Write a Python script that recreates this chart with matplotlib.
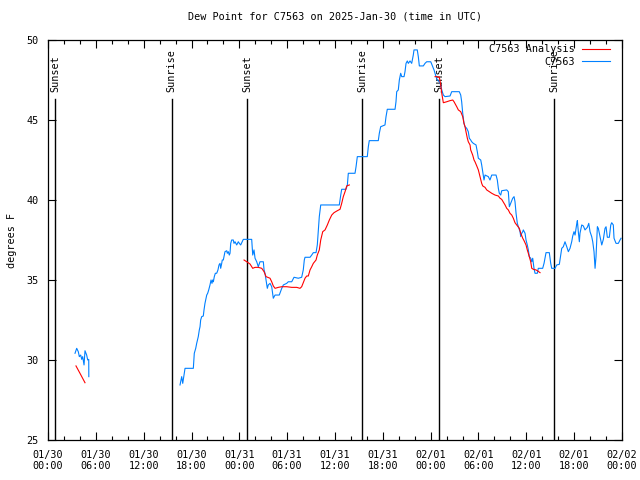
import matplotlib
matplotlib.use("Agg")
import matplotlib.pyplot as plt
import numpy as np

# hours since 2025-01-30 00:00 UTC
obs1_h = [3.39, 3.60, 3.80, 3.93, 4.10, 4.23, 4.35, 4.52, 4.64, 4.85, 4.98, 5.11, 5.12]
obs1_v = [30.42, 30.73, 30.52, 30.21, 30.31, 30.04, 30.21, 29.69, 30.58, 30.31, 30.00, 30.04, 28.96]

obs2_h = [16.56, 16.77, 16.90, 17.06, 17.19, 18.23, 18.35, 18.53, 18.65, 18.85, 18.98, 19.07, 19.15, 19.28,
          19.48, 19.57, 19.69, 19.82, 19.91, 20.03, 20.16, 20.32, 20.45, 20.57, 20.66, 20.74, 20.86, 20.99,
          21.16, 21.32, 21.45, 21.58, 21.66, 21.79, 21.86, 21.99, 22.11, 22.20, 22.42, 22.49, 22.62, 22.74,
          22.83, 22.92, 23.04, 23.24, 23.33, 23.46, 23.67, 23.87, 24.00, 24.17, 24.30, 24.50, 25.55, 25.68,
          25.84, 25.97, 26.18, 26.38, 26.59, 27.01, 27.10, 27.22, 27.35, 27.51, 27.63, 27.85, 28.06, 28.26,
          28.48, 29.01, 29.32, 29.52, 29.94, 30.14, 30.57, 30.86, 31.40, 31.82, 32.02, 32.15, 32.24, 32.87,
          33.08, 33.28, 33.62, 33.78, 33.91, 34.03, 34.21, 36.54, 36.72, 36.84, 37.38, 37.55, 37.67, 38.51,
          38.64, 38.80, 40.05, 40.18, 40.30, 41.43, 41.56, 41.73, 42.27, 42.40, 42.56, 43.53, 43.65, 43.74,
          43.94, 44.07, 44.24, 44.37, 44.66, 44.78, 44.91, 45.07, 45.20, 45.41, 45.62, 45.82, 45.91, 46.32,
          46.45, 46.58, 47.08, 47.29, 47.50, 48.01, 48.26, 48.42, 48.67, 48.83, 49.09, 49.26, 49.39, 49.59,
          49.80, 50.43, 50.64, 51.59, 51.77, 51.89, 52.02, 52.18, 52.31, 52.52, 52.72, 52.85, 53.02, 53.15,
          53.35, 53.69, 53.85, 53.98, 54.28, 54.40, 54.60, 54.69, 54.82, 55.23, 55.44, 55.66, 56.20, 56.36,
          56.49, 56.61, 56.79, 56.91, 57.54, 57.74, 57.87, 58.04, 58.29, 58.46, 58.58, 58.71, 58.87, 59.00,
          59.21, 59.30, 59.42, 59.55, 59.62, 59.84, 59.96, 60.12, 60.25, 60.37, 60.55, 60.68, 60.80, 60.96,
          61.09, 61.38, 61.50, 62.05, 62.22, 62.47, 62.88, 63.06, 63.18, 63.60, 63.81, 64.14, 64.31, 64.44,
          64.64, 64.85, 65.07, 65.27, 65.48, 65.69, 65.82, 65.98, 66.11, 66.32, 66.40, 66.52, 66.65, 66.73,
          66.95, 67.15, 67.36, 67.65, 67.83, 67.99, 68.20, 68.33, 68.49, 68.62, 68.74, 68.91, 69.03, 69.24,
          69.46, 69.66, 69.87, 70.00, 70.16, 70.41, 70.59, 70.71, 70.91, 71.00, 71.25, 71.54, 71.75, 71.88]
obs2_v = [28.44, 28.96, 28.54, 29.06, 29.48, 29.48, 30.42, 30.73, 31.04, 31.46, 31.88, 32.08, 32.50, 32.71,
          32.75, 33.13, 33.54, 33.86, 34.06, 34.17, 34.38, 34.69, 35.00, 34.79, 35.00, 34.89, 35.21, 35.42,
          35.42, 35.63, 35.94, 36.04, 35.73, 36.04, 36.25, 36.25, 36.56, 36.77, 36.83, 36.67, 36.77, 36.56,
          36.67, 37.29, 37.50, 37.50, 37.29, 37.39, 37.19, 37.39, 37.29, 37.19, 37.33, 37.54, 37.54, 36.56,
          36.88, 36.36, 36.14, 35.83, 36.14, 36.14, 35.63, 35.42, 35.00, 34.48, 34.69, 34.79, 34.58, 33.86,
          34.06, 34.06, 34.48, 34.69, 34.79, 34.89, 34.89, 35.17, 35.11, 35.17, 35.63, 36.25, 36.42, 36.42,
          36.56, 36.71, 36.71, 37.19, 38.13, 38.96, 39.69, 39.69, 40.31, 40.67, 40.67, 40.94, 41.67, 41.67,
          42.08, 42.71, 42.71, 43.33, 43.71, 43.71, 44.17, 44.58, 44.69, 45.21, 45.67, 45.67, 46.14, 46.77,
          46.88, 47.50, 47.92, 47.71, 47.71, 48.02, 48.54, 48.69, 48.54, 48.69, 48.54, 49.06, 49.38, 49.38,
          48.96, 48.38, 48.38, 48.54, 48.64, 48.64, 48.33, 48.13, 47.71, 47.50, 47.39, 47.19, 46.88, 46.56,
          46.46, 46.50, 46.77, 46.77, 46.56, 46.14, 45.42, 44.79, 44.58, 44.48, 44.27, 43.86, 43.75, 43.64,
          43.54, 43.44, 43.02, 42.61, 42.50, 42.19, 41.56, 41.25, 41.56, 41.46, 41.25, 41.56, 41.56, 41.25,
          40.73, 40.42, 40.31, 40.58, 40.63, 40.52, 39.58, 39.79, 40.11, 40.21, 39.89, 39.17, 38.54, 38.33,
          38.02, 37.71, 37.92, 38.02, 38.13, 37.92, 37.50, 37.19, 36.88, 36.46, 36.36, 36.14, 36.36, 35.73,
          35.42, 35.42, 35.73, 35.73, 36.04, 36.71, 36.71, 36.04, 35.73, 35.73, 35.94, 35.98, 36.56, 36.98,
          37.08, 37.39, 37.08, 36.77, 36.98, 37.39, 37.75, 38.02, 37.81, 38.50, 38.71, 38.02, 37.39, 37.92,
          38.44, 38.38, 38.13, 38.29, 38.54, 38.02, 37.71, 37.39, 36.77, 35.73, 36.46, 38.33, 38.23, 37.71,
          37.19, 37.54, 38.23, 38.33, 37.67, 37.67, 38.44, 38.58, 38.44, 37.61, 37.29, 37.29, 37.50, 37.61]

ana1_h = [3.51, 4.01, 4.64]
ana1_v = [29.63, 29.17, 28.58]

ana2_h = [24.59, 24.93, 25.34, 25.68, 25.97, 26.38, 26.81, 27.10, 27.35, 27.85, 28.06, 28.26, 28.48, 28.89,
          29.32, 29.94, 30.57, 31.20, 31.61, 31.82, 32.02, 32.24, 32.45, 32.65, 32.87, 33.08, 33.28, 33.62,
          33.78, 34.03, 34.21, 34.46, 34.75, 35.04, 35.29, 35.59, 35.88, 36.29, 36.63, 36.84, 37.04, 37.26,
          37.47, 37.80]
ana2_v = [36.25, 36.14, 36.00, 35.73, 35.79, 35.79, 35.73, 35.52, 35.21, 35.11, 34.89, 34.63, 34.48, 34.54,
          34.58, 34.58, 34.54, 34.54, 34.48, 34.58, 34.83, 35.11, 35.25, 35.25, 35.63, 35.83, 36.04, 36.25,
          36.56, 36.88, 37.50, 38.02, 38.13, 38.44, 38.75, 39.06, 39.21, 39.33, 39.42, 39.79, 40.21, 40.52,
          40.88, 40.94]

ana3_h = [48.55, 48.76, 49.09, 49.26, 49.39, 49.59, 50.01, 50.43, 50.77, 50.93, 51.27, 51.47, 51.77, 52.02,
          52.18, 52.31, 52.43, 52.60, 52.72, 52.94, 53.02, 53.27, 53.44, 53.56, 53.78, 53.98, 54.19, 54.40,
          54.53, 54.82, 55.03, 55.36, 55.66, 56.07, 56.49, 56.70, 56.91, 57.33, 57.54, 57.74, 57.95, 58.17,
          58.37, 58.58, 58.79, 59.12, 59.30, 59.55, 59.71, 59.96, 60.12, 60.25, 60.37, 60.55, 60.68, 60.88,
          61.21, 61.38, 61.72]
ana3_v = [47.71, 47.71, 47.67, 47.19, 46.67, 46.08, 46.14, 46.21, 46.25, 46.14, 45.83, 45.63, 45.52, 45.21,
          44.79, 44.58, 44.27, 43.86, 43.64, 43.44, 43.13, 42.81, 42.50, 42.39, 42.13, 41.88, 41.46, 41.04,
          40.88, 40.79, 40.63, 40.52, 40.42, 40.31, 40.25, 40.11, 40.04, 39.69, 39.48, 39.38, 39.17, 39.06,
          38.86, 38.58, 38.44, 38.23, 37.92, 37.61, 37.46, 37.19, 36.88, 36.67, 36.46, 36.14, 35.73, 35.67,
          35.63, 35.58, 35.46]

sun_hours = [0.88, 15.51, 24.98, 39.43, 49.09, 63.51]
sun_labels = ["Sunset", "Sunrise", "Sunset", "Sunrise", "Sunset", "Sunrise"]

xtick_hours = [0, 6, 12, 18, 24, 30, 36, 42, 48, 54, 60, 66, 72]
xtick_labels = ["01/30\n00:00", "01/30\n06:00", "01/30\n12:00", "01/30\n18:00",
                "01/31\n00:00", "01/31\n06:00", "01/31\n12:00", "01/31\n18:00",
                "02/01\n00:00", "02/01\n06:00", "02/01\n12:00", "02/01\n18:00",
                "02/02\n00:00"]
ytick_vals = [25, 30, 35, 40, 45, 50]

title = "Dew Point for C7563 on 2025-Jan-30 (time in UTC)"
ylabel = "degrees F"
ana_name = "C7563 Analysis"
obs_name = "C7563"

FONT = "DejaVu Sans Mono"
FS = 7.3
RED = "#ff0000"
BLUE = "#0080ff"

fig = plt.figure(figsize=(6.4, 4.8), dpi=100)
ax = fig.add_axes([48/640, 40/480, 574/640, 400/480])

ax.set_xlim(0, 72)
ax.set_ylim(25, 50)

# sun lines
for h, lab in zip(sun_hours, sun_labels):
    ax.plot([h, h], [25, 46.31], color="black", lw=1.0, zorder=1)
    ax.text(h, 46.75, lab, rotation=90, ha="center", va="bottom",
            fontsize=FS, family=FONT, zorder=1)

ax.plot(ana1_h, ana1_v, color=RED, lw=0.8, label=ana_name, zorder=3)
ax.plot(ana2_h, ana2_v, color=RED, lw=0.8, zorder=3)
ax.plot(ana3_h, ana3_v, color=RED, lw=0.8, zorder=3)
ax.plot(obs1_h, obs1_v, color=BLUE, lw=0.8, label=obs_name, zorder=2)
ax.plot(obs2_h, obs2_v, color=BLUE, lw=0.8, zorder=2)

ax.set_xticks(xtick_hours)
ax.set_xticklabels(xtick_labels, family=FONT, fontsize=FS)
ax.set_xticks(np.arange(0, 73, 2), minor=True)
ax.set_yticks(ytick_vals)
ax.set_yticklabels([str(v) for v in ytick_vals], family=FONT, fontsize=FS)
ax.tick_params(which="both", direction="in", top=True, right=True, width=0.8)
ax.tick_params(which="major", length=6, pad=7)
ax.tick_params(which="minor", length=3)
for s in ax.spines.values():
    s.set_linewidth(0.9)

ax.set_title(title, family=FONT, fontsize=FS, pad=15)
fig.text(12/640, 0.5, ylabel, rotation=90, ha="center", va="center",
         family=FONT, fontsize=FS)

leg = ax.legend(loc="upper right", bbox_to_anchor=(0.987, 1.0), frameon=False,
                markerfirst=False, handlelength=2.8, handletextpad=0.7,
                labelspacing=0.25, borderpad=0.2, borderaxespad=0.2,
                prop={"family": FONT, "size": FS})

fig.savefig("out.png", dpi=100)
